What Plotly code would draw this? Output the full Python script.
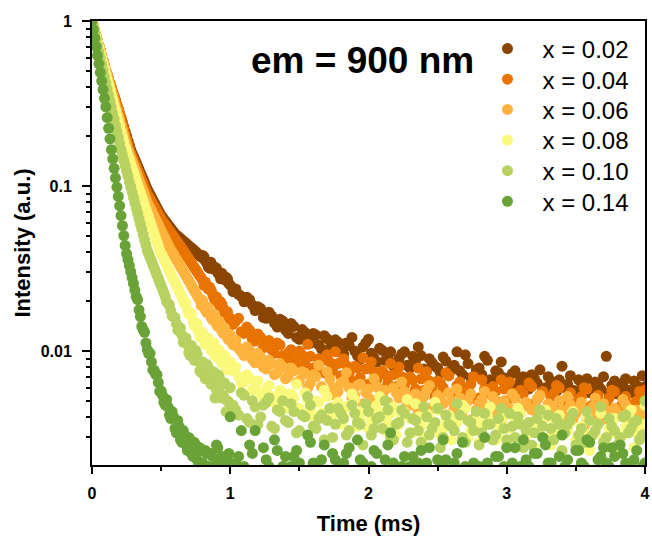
import plotly.graph_objects as go


# time base of the decay traces (ms): dense at the start, sparser in the tail
t_ms = [
    0.00, 0.01, 0.02, 0.03, 0.04, 0.05, 0.06, 0.07, 0.08, 0.09,
    0.10, 0.11, 0.12, 0.13, 0.14, 0.15, 0.16, 0.17, 0.18, 0.19,
    0.20, 0.21, 0.22, 0.23, 0.24, 0.25, 0.26, 0.27, 0.28, 0.29,
    0.30, 0.31, 0.32, 0.33, 0.34, 0.35, 0.36, 0.37, 0.38, 0.39,
    0.40, 0.41, 0.42, 0.43, 0.44, 0.45, 0.46, 0.47, 0.48, 0.49, 0.50,
    0.52, 0.54, 0.56, 0.58, 0.60, 0.62, 0.64, 0.66, 0.68, 0.70,
    0.72, 0.74, 0.76, 0.78, 0.80, 0.82, 0.84, 0.86, 0.88, 0.90,
    0.92, 0.94, 0.96, 0.98, 1.00,
    1.04, 1.08, 1.12, 1.16, 1.20, 1.24, 1.28, 1.32, 1.36, 1.40,
    1.44, 1.48, 1.52, 1.56, 1.60, 1.64, 1.68, 1.72, 1.76, 1.80,
    1.84, 1.88, 1.92, 1.96, 2.00, 2.04, 2.08, 2.12, 2.16, 2.20,
    2.24, 2.28, 2.32, 2.36, 2.40, 2.44, 2.48, 2.52, 2.56, 2.60,
    2.64, 2.68, 2.72, 2.76, 2.80, 2.84, 2.88, 2.92, 2.96, 3.00,
    3.04, 3.08, 3.12, 3.16, 3.20, 3.24, 3.28, 3.32, 3.36, 3.40,
    3.44, 3.48, 3.52, 3.56, 3.60, 3.64, 3.68, 3.72, 3.76, 3.80,
    3.84, 3.88, 3.92, 3.96, 4.00,
]

# in-between samples of the same traces (ms)
t_ms_b = [
    0.51, 0.53, 0.55, 0.57, 0.59, 0.61, 0.63, 0.65, 0.67, 0.69,
    0.71, 0.73, 0.75, 0.77, 0.79, 0.81, 0.83, 0.85, 0.87, 0.89,
    0.91, 0.93, 0.95, 0.97, 0.99,
    1.02, 1.06, 1.10, 1.14, 1.18, 1.22, 1.26, 1.30, 1.34, 1.38,
    1.42, 1.46, 1.50, 1.54, 1.58, 1.62, 1.66, 1.70, 1.74, 1.78,
    1.82, 1.86, 1.90, 1.94, 1.98, 2.02, 2.06, 2.10, 2.14, 2.18,
    2.22, 2.26, 2.30, 2.34, 2.38, 2.42, 2.46, 2.50, 2.54, 2.58,
    2.62, 2.66, 2.70, 2.74, 2.78, 2.82, 2.86, 2.90, 2.94, 2.98,
    3.02, 3.06, 3.10, 3.14, 3.18, 3.22, 3.26, 3.30, 3.34, 3.38,
    3.42, 3.46, 3.50, 3.54, 3.58, 3.62, 3.66, 3.70, 3.74, 3.78,
    3.82, 3.86, 3.90, 3.94, 3.98,
]

# normalised intensity (a.u.) for each composition
int_x002 = [
    1.0, 0.933, 0.871, 0.813, 0.759, 0.708, 0.661, 0.617, 0.575, 0.537,
    0.501, 0.472, 0.445, 0.419, 0.394, 0.372, 0.350, 0.330, 0.310, 0.292,
    0.275, 0.259, 0.243, 0.228, 0.214, 0.201, 0.188, 0.177, 0.166, 0.158,
    0.151, 0.145, 0.138, 0.132, 0.126, 0.120, 0.115, 0.110, 0.105, 0.100,
    0.0955, 0.0920, 0.0887, 0.0855, 0.0824, 0.0794, 0.0766, 0.0738, 0.0711, 0.0685, 0.0661,
    0.0628, 0.0597, 0.0568, 0.0540, 0.0513, 0.0497, 0.0480, 0.0465, 0.0450, 0.0435,
    0.0421, 0.0407, 0.0393, 0.0378, 0.0380, 0.0351, 0.0325, 0.0345, 0.0314, 0.0318,
    0.0292, 0.0296, 0.0270, 0.0274, 0.0251,
    0.0238, 0.0215, 0.0212, 0.0190, 0.0186, 0.0160, 0.0172, 0.0148, 0.0156, 0.0134,
    0.0147, 0.0121, 0.0135, 0.0116, 0.0128, 0.0109, 0.0124, 0.0104, 0.0117, 0.0099,
    0.0112, 0.0121, 0.0094, 0.0106, 0.0118, 0.0091, 0.0104, 0.0088, 0.0099, 0.0085,
    0.0096, 0.0082, 0.0093, 0.0106, 0.0078, 0.0090, 0.0081, 0.0074, 0.0087, 0.0077,
    0.0099, 0.0072, 0.0084, 0.0070, 0.0079, 0.0093, 0.0067, 0.0076, 0.0086, 0.0064,
    0.0073, 0.0062, 0.0070, 0.0059, 0.0068, 0.0077, 0.0060, 0.0066, 0.0057, 0.0081,
    0.0063, 0.0058, 0.0067, 0.0061, 0.0056, 0.0065, 0.0059, 0.0093, 0.0062, 0.0055,
    0.0064, 0.0058, 0.0066, 0.0054, 0.0061,
]
int_x002_b = [
    0.0645, 0.0612, 0.0582, 0.0554, 0.0526, 0.0505, 0.0488, 0.0472, 0.0457, 0.0442,
    0.0428, 0.0414, 0.0400, 0.0385, 0.0371, 0.0372, 0.0345, 0.0318, 0.0320, 0.0322,
    0.0297, 0.0274, 0.0276, 0.0280, 0.0256,
    0.0229, 0.0221, 0.0199, 0.0205, 0.0176, 0.0181, 0.0158, 0.0163, 0.0140, 0.0152,
    0.0128, 0.0141, 0.0118, 0.0130, 0.0112, 0.0125, 0.0103, 0.0119, 0.0101, 0.0113,
    0.0096, 0.0108, 0.0100, 0.0089, 0.0112, 0.0097, 0.0086, 0.0101, 0.0092, 0.0081,
    0.0090, 0.0099, 0.0079, 0.0087, 0.0094, 0.0076, 0.0085, 0.0079, 0.0092, 0.0071,
    0.0082, 0.0076, 0.0095, 0.0069, 0.0077, 0.0072, 0.0088, 0.0066, 0.0074, 0.0069,
    0.0063, 0.0076, 0.0067, 0.0061, 0.0072, 0.0064, 0.0058, 0.0070, 0.0063, 0.0067,
    0.0060, 0.0071, 0.0057, 0.0064, 0.0068, 0.0058, 0.0063, 0.0070, 0.0056, 0.0066,
    0.0059, 0.0068, 0.0056, 0.0062, 0.0071,
]

int_x004 = [
    1.0, 0.933, 0.871, 0.813, 0.759, 0.708, 0.661, 0.617, 0.575, 0.537,
    0.501, 0.472, 0.445, 0.419, 0.394, 0.372, 0.350, 0.330, 0.310, 0.292,
    0.275, 0.256, 0.238, 0.222, 0.206, 0.192, 0.178, 0.166, 0.158, 0.151,
    0.144, 0.137, 0.131, 0.124, 0.119, 0.113, 0.108, 0.103, 0.0980, 0.0935,
    0.0891, 0.0861, 0.0832, 0.0804, 0.0776, 0.0750, 0.0724, 0.0700, 0.0676, 0.0653, 0.0631,
    0.0597, 0.0565, 0.0536, 0.0507, 0.0480, 0.0454, 0.0431, 0.0407, 0.0384, 0.0362,
    0.0341, 0.0321, 0.0303, 0.0286, 0.0269, 0.0262, 0.0238, 0.0236, 0.0212, 0.0213,
    0.0190, 0.0192, 0.0171, 0.0173, 0.0155,
    0.0152, 0.0131, 0.0140, 0.0118, 0.0127, 0.0105, 0.0116, 0.0097, 0.0109, 0.0090,
    0.0102, 0.0083, 0.0095, 0.0110, 0.0079, 0.0090, 0.0074, 0.0086, 0.0099, 0.0071,
    0.0082, 0.0066, 0.0079, 0.0091, 0.0063, 0.0075, 0.0059, 0.0072, 0.0084, 0.0061,
    0.0070, 0.0055, 0.0067, 0.0079, 0.0058, 0.0066, 0.0052, 0.0064, 0.0074, 0.0055,
    0.0062, 0.0049, 0.0060, 0.0070, 0.0052, 0.0059, 0.0046, 0.0057, 0.0067, 0.0050,
    0.0056, 0.0044, 0.0055, 0.0064, 0.0048, 0.0054, 0.0043, 0.0053, 0.0062, 0.0047,
    0.0052, 0.0042, 0.0051, 0.0060, 0.0046, 0.0050, 0.0041, 0.0049, 0.0058, 0.0044,
    0.0049, 0.0040, 0.0048, 0.0057, 0.0058,
]
int_x004_b = [
    0.0614, 0.0581, 0.0550, 0.0521, 0.0493, 0.0467, 0.0442, 0.0419, 0.0395, 0.0373,
    0.0351, 0.0331, 0.0312, 0.0294, 0.0277, 0.0250, 0.0248, 0.0245, 0.0224, 0.0203,
    0.0201, 0.0199, 0.0181, 0.0164, 0.0162,
    0.0145, 0.0158, 0.0128, 0.0134, 0.0115, 0.0121, 0.0109, 0.0102, 0.0112, 0.0094,
    0.0098, 0.0089, 0.0100, 0.0084, 0.0093, 0.0080, 0.0087, 0.0095, 0.0076, 0.0084,
    0.0090, 0.0073, 0.0081, 0.0069, 0.0078, 0.0086, 0.0067, 0.0076, 0.0064, 0.0072,
    0.0080, 0.0062, 0.0070, 0.0059, 0.0068, 0.0075, 0.0058, 0.0066, 0.0060, 0.0071,
    0.0054, 0.0065, 0.0058, 0.0063, 0.0051, 0.0067, 0.0056, 0.0061, 0.0049, 0.0059,
    0.0065, 0.0052, 0.0058, 0.0047, 0.0061, 0.0051, 0.0057, 0.0046, 0.0055, 0.0060,
    0.0049, 0.0056, 0.0045, 0.0053, 0.0059, 0.0047, 0.0054, 0.0044, 0.0052, 0.0057,
    0.0046, 0.0053, 0.0043, 0.0050, 0.0055,
]

int_x006 = [
    1.0, 0.933, 0.871, 0.813, 0.759, 0.708, 0.661, 0.617, 0.575, 0.537,
    0.501, 0.468, 0.437, 0.407, 0.380, 0.355, 0.331, 0.309, 0.288, 0.269,
    0.251, 0.234, 0.219, 0.204, 0.191, 0.178, 0.166, 0.157, 0.149, 0.142,
    0.134, 0.128, 0.121, 0.115, 0.109, 0.103, 0.0980, 0.0931, 0.0883, 0.0838,
    0.0794, 0.0764, 0.0735, 0.0706, 0.0679, 0.0653, 0.0628, 0.0604, 0.0581, 0.0558, 0.0537,
    0.0497, 0.0458, 0.0424, 0.0398, 0.0372, 0.0348, 0.0326, 0.0305, 0.0285, 0.0267,
    0.0249, 0.0233, 0.0218, 0.0204, 0.0203, 0.0178, 0.0184, 0.0161, 0.0167, 0.0146,
    0.0152, 0.0132, 0.0138, 0.0120, 0.0125,
    0.0116, 0.0099, 0.0106, 0.0089, 0.0097, 0.0080, 0.0088, 0.0072, 0.0084, 0.0068,
    0.0079, 0.0064, 0.0075, 0.0060, 0.0072, 0.0082, 0.0058, 0.0068, 0.0054, 0.0064,
    0.0074, 0.0052, 0.0062, 0.0048, 0.0059, 0.0068, 0.0050, 0.0058, 0.0045, 0.0056,
    0.0065, 0.0047, 0.0054, 0.0043, 0.0053, 0.0062, 0.0045, 0.0052, 0.0041, 0.0050,
    0.0059, 0.0043, 0.0050, 0.0039, 0.0048, 0.0057, 0.0042, 0.0049, 0.0038, 0.0046,
    0.0055, 0.0041, 0.0047, 0.0037, 0.0045, 0.0054, 0.0040, 0.0046, 0.0036, 0.0044,
    0.0053, 0.0039, 0.0045, 0.0035, 0.0043, 0.0052, 0.0038, 0.0044, 0.0034, 0.0042,
    0.0051, 0.0037, 0.0043, 0.0033, 0.0041,
]
int_x006_b = [
    0.0517, 0.0477, 0.0441, 0.0411, 0.0385, 0.0360, 0.0337, 0.0315, 0.0295, 0.0276,
    0.0258, 0.0241, 0.0225, 0.0211, 0.0189, 0.0190, 0.0172, 0.0172, 0.0155, 0.0156,
    0.0141, 0.0142, 0.0128, 0.0129, 0.0117,
    0.0109, 0.0104, 0.0094, 0.0101, 0.0085, 0.0092, 0.0078, 0.0084, 0.0074, 0.0080,
    0.0071, 0.0076, 0.0066, 0.0073, 0.0064, 0.0070, 0.0061, 0.0075, 0.0060, 0.0057,
    0.0066, 0.0060, 0.0054, 0.0063, 0.0056, 0.0051, 0.0061, 0.0054, 0.0049, 0.0060,
    0.0052, 0.0057, 0.0047, 0.0055, 0.0050, 0.0058, 0.0046, 0.0054, 0.0048, 0.0056,
    0.0045, 0.0052, 0.0047, 0.0055, 0.0044, 0.0051, 0.0046, 0.0053, 0.0043, 0.0050,
    0.0045, 0.0052, 0.0042, 0.0049, 0.0044, 0.0051, 0.0041, 0.0048, 0.0043, 0.0050,
    0.0040, 0.0047, 0.0042, 0.0049, 0.0039, 0.0046, 0.0041, 0.0048, 0.0038, 0.0045,
    0.0041, 0.0047, 0.0037, 0.0044, 0.0040,
]

int_x008 = [
    1.0, 0.929, 0.863, 0.802, 0.745, 0.692, 0.643, 0.597, 0.555, 0.515,
    0.479, 0.445, 0.414, 0.385, 0.357, 0.332, 0.309, 0.287, 0.267, 0.248,
    0.231, 0.214, 0.199, 0.185, 0.172, 0.162, 0.153, 0.145, 0.136, 0.129,
    0.122, 0.115, 0.108, 0.102, 0.0966, 0.0912, 0.0861, 0.0813, 0.0767, 0.0724,
    0.0684, 0.0646, 0.0610, 0.0575, 0.0543, 0.0513, 0.0484, 0.0457, 0.0432, 0.0407, 0.0391,
    0.0361, 0.0333, 0.0306, 0.0282, 0.0261, 0.0240, 0.0221, 0.0204, 0.0195, 0.0168,
    0.0168, 0.0142, 0.0146, 0.0122, 0.0130, 0.0110, 0.0120, 0.0101, 0.0112, 0.0092,
    0.0102, 0.0085, 0.0094, 0.0077, 0.0086,
    0.0080, 0.0064, 0.0072, 0.0058, 0.0066, 0.0052, 0.0062, 0.0049, 0.0058, 0.0045,
    0.0055, 0.0063, 0.0042, 0.0051, 0.0040, 0.0049, 0.0058, 0.0038, 0.0047, 0.0036,
    0.0046, 0.0055, 0.0035, 0.0044, 0.0034, 0.0043, 0.0053, 0.0033, 0.0042, 0.0031,
    0.0041, 0.0051, 0.0032, 0.0040, 0.0030, 0.0039, 0.0049, 0.0031, 0.0038, 0.0029,
    0.0037, 0.0047, 0.0030, 0.0036, 0.0028, 0.0036, 0.0046, 0.0029, 0.0035, 0.0027,
    0.0035, 0.0045, 0.0028, 0.0034, 0.0026, 0.0034, 0.0044, 0.0027, 0.0033, 0.0025,
    0.0033, 0.0043, 0.0027, 0.0032, 0.0025, 0.0032, 0.0042, 0.0026, 0.0032, 0.0024,
    0.0031, 0.0041, 0.0026, 0.0031, 0.0047,
]
int_x008_b = [
    0.0376, 0.0347, 0.0319, 0.0294, 0.0271, 0.0250, 0.0230, 0.0212, 0.0193, 0.0178,
    0.0170, 0.0152, 0.0148, 0.0131, 0.0128, 0.0117, 0.0113, 0.0114, 0.0104, 0.0094,
    0.0096, 0.0096, 0.0087, 0.0079, 0.0080,
    0.0076, 0.0070, 0.0065, 0.0068, 0.0060, 0.0055, 0.0059, 0.0053, 0.0050, 0.0056,
    0.0047, 0.0052, 0.0045, 0.0056, 0.0044, 0.0050, 0.0042, 0.0053, 0.0041, 0.0049,
    0.0040, 0.0047, 0.0051, 0.0039, 0.0045, 0.0038, 0.0047, 0.0042, 0.0037, 0.0046,
    0.0036, 0.0043, 0.0039, 0.0048, 0.0035, 0.0042, 0.0037, 0.0044, 0.0034, 0.0041,
    0.0036, 0.0040, 0.0045, 0.0033, 0.0039, 0.0034, 0.0041, 0.0037, 0.0032, 0.0040,
    0.0034, 0.0038, 0.0042, 0.0031, 0.0037, 0.0033, 0.0039, 0.0030, 0.0036, 0.0041,
    0.0032, 0.0037, 0.0029, 0.0035, 0.0040, 0.0031, 0.0036, 0.0029, 0.0034, 0.0039,
    0.0030, 0.0035, 0.0044, 0.0032, 0.0036,
]

int_x010 = [
    1.0, 0.917, 0.841, 0.772, 0.708, 0.649, 0.596, 0.546, 0.501, 0.460,
    0.422, 0.388, 0.356, 0.327, 0.301, 0.276, 0.254, 0.233, 0.214, 0.197,
    0.181, 0.166, 0.154, 0.143, 0.133, 0.123, 0.115, 0.106, 0.0987, 0.0917,
    0.0851, 0.0791, 0.0735, 0.0682, 0.0634, 0.0589, 0.0547, 0.0508, 0.0472, 0.0439,
    0.0407, 0.0388, 0.0369, 0.0352, 0.0334, 0.0318, 0.0303, 0.0288, 0.0275, 0.0261, 0.0249,
    0.0225, 0.0199, 0.0190, 0.0163, 0.0160, 0.0134, 0.0138, 0.0113, 0.0120, 0.0098,
    0.0108, 0.0088, 0.0096, 0.0076, 0.0086, 0.0068, 0.0080, 0.0063, 0.0075, 0.0058,
    0.0070, 0.0052, 0.0064, 0.0050, 0.0060,
    0.0044, 0.0056, 0.0039, 0.0050, 0.0036, 0.0047, 0.0052, 0.0034, 0.0043, 0.0038,
    0.0048, 0.0032, 0.0041, 0.0053, 0.0035, 0.0039, 0.0029, 0.0045, 0.0036, 0.0042,
    0.0031, 0.0047, 0.0037, 0.0027, 0.0043, 0.0034, 0.0040, 0.0050, 0.0030, 0.0036,
    0.0044, 0.0028, 0.0039, 0.0033, 0.0046, 0.0031, 0.0037, 0.0026, 0.0041, 0.0035,
    0.0048, 0.0030, 0.0038, 0.0033, 0.0027, 0.0042, 0.0036, 0.0031, 0.0045, 0.0029,
    0.0035, 0.0040, 0.0026, 0.0037, 0.0032, 0.0044, 0.0029, 0.0034, 0.0039, 0.0025,
    0.0036, 0.0042, 0.0031, 0.0028, 0.0038, 0.0033, 0.0046, 0.0030, 0.0035, 0.0027,
    0.0040, 0.0032, 0.0037, 0.0029, 0.0050,
]
int_x010_b = [
    0.0237, 0.0214, 0.0195, 0.0176, 0.0161, 0.0147, 0.0135, 0.0125, 0.0117, 0.0110,
    0.0094, 0.0098, 0.0101, 0.0086, 0.0074, 0.0078, 0.0083, 0.0072, 0.0064, 0.0052,
    0.0072, 0.0062, 0.0054, 0.0043, 0.0049,
    0.0047, 0.0041, 0.0054, 0.0037, 0.0046, 0.0040, 0.0049, 0.0035, 0.0044, 0.0050,
    0.0037, 0.0043, 0.0033, 0.0040, 0.0047, 0.0034, 0.0041, 0.0038, 0.0030, 0.0045,
    0.0039, 0.0033, 0.0042, 0.0036, 0.0048, 0.0031, 0.0039, 0.0034, 0.0044, 0.0029,
    0.0037, 0.0042, 0.0032, 0.0038, 0.0028, 0.0040, 0.0034, 0.0045, 0.0030, 0.0036,
    0.0033, 0.0041, 0.0028, 0.0037, 0.0043, 0.0032, 0.0036, 0.0029, 0.0039, 0.0034,
    0.0042, 0.0030, 0.0036, 0.0033, 0.0027, 0.0039, 0.0035, 0.0041, 0.0029, 0.0036,
    0.0032, 0.0038, 0.0027, 0.0034, 0.0043, 0.0031, 0.0036, 0.0028, 0.0039, 0.0033,
    0.0030, 0.0041, 0.0034, 0.0038, 0.0031,
]

int_x014 = [
    1.0, 0.887, 0.787, 0.698, 0.619, 0.550, 0.488, 0.433, 0.384, 0.340,
    0.302, 0.260, 0.224, 0.193, 0.166, 0.146, 0.128, 0.112, 0.0984, 0.0865,
    0.0759, 0.0661, 0.0575, 0.0501, 0.0437, 0.0389, 0.0358, 0.0330, 0.0303, 0.0279,
    0.0257, 0.0234, 0.0214, 0.0205, 0.0178, 0.0162, 0.0141, 0.0135, 0.0130, 0.0112,
    0.0102, 0.00966, 0.0097, 0.00861, 0.0077, 0.00767, 0.00724, 0.0072, 0.00646, 0.0057, 0.00575,
    0.0049, 0.0051, 0.0041, 0.0043, 0.0034, 0.0038, 0.0029, 0.0033, 0.0027, 0.0030,
    0.0024, 0.0028, 0.0022, 0.0026, 0.0021, 0.0025, 0.0020, 0.0024, 0.0019, 0.0027,
    0.0021, 0.0023, 0.0018, 0.0022, 0.0040,
    0.0021, 0.0033, 0.0019, 0.0024, 0.0018, 0.0026, 0.0020, 0.0029, 0.0017, 0.0023,
    0.0020, 0.0025, 0.0018, 0.0031, 0.0021, 0.0019, 0.0027, 0.0018, 0.0022, 0.0020,
    0.0024, 0.0017, 0.0029, 0.0021, 0.0019, 0.0025, 0.0018, 0.0022, 0.0032, 0.0019,
    0.0020, 0.0018, 0.0023, 0.0021, 0.0019, 0.0026, 0.0018, 0.0020, 0.0022, 0.0019,
    0.0024, 0.0028, 0.0018, 0.0021, 0.0020, 0.0030, 0.0019, 0.0023, 0.0018, 0.0026,
    0.0021, 0.0019, 0.0029, 0.0020, 0.0024, 0.0018, 0.0027, 0.0021, 0.0019, 0.0031,
    0.0022, 0.0018, 0.0025, 0.0020, 0.0028, 0.0019, 0.0023, 0.0021, 0.0026, 0.0018,
    0.0024, 0.0020, 0.0022, 0.0019, 0.0021,
]
int_x014_b = [
    0.0054, 0.0047, 0.0046, 0.0039, 0.0040, 0.0032, 0.0035, 0.0028, 0.0031, 0.0025,
    0.0029, 0.0023, 0.0027, 0.0021, 0.0025, 0.0020, 0.0024, 0.0019, 0.0023, 0.0020,
    0.0026, 0.0019, 0.0022, 0.0020, 0.0024,
    0.0019, 0.0023, 0.0020, 0.0027, 0.0033, 0.0019, 0.0022, 0.0018, 0.0025, 0.0020,
    0.0019, 0.0023, 0.0021, 0.0018, 0.0028, 0.0020, 0.0022, 0.0019, 0.0024, 0.0018,
    0.0021, 0.0026, 0.0019, 0.0022, 0.0018, 0.0020, 0.0024, 0.0019, 0.0027, 0.0021,
    0.0018, 0.0023, 0.0020, 0.0019, 0.0025, 0.0021, 0.0018, 0.0022, 0.0029, 0.0019,
    0.0021, 0.0018, 0.0020, 0.0019, 0.0020, 0.0018, 0.0021, 0.0019, 0.0023, 0.0020,
    0.0018, 0.0026, 0.0020, 0.0022, 0.0019, 0.0024, 0.0030, 0.0021, 0.0019, 0.0023,
    0.0020, 0.0018, 0.0025, 0.0021, 0.0029, 0.0019, 0.0022, 0.0026, 0.0020, 0.0023,
    0.0027, 0.0021, 0.0019, 0.0025, 0.0020,
]

series_names = ['x = 0.02', 'x = 0.04', 'x = 0.06', 'x = 0.08', 'x = 0.10', 'x = 0.14']
series_values = [int_x002, int_x004, int_x006, int_x008, int_x010, int_x014]
series_values_b = [int_x002_b, int_x004_b, int_x006_b, int_x008_b, int_x010_b, int_x014_b]
series_colors = ['#8a4600', '#e97300', '#fdb33e', '#fbf97c', '#b7d261', '#69a337']

# axis ticks
x_ticks = [0, 1, 2, 3, 4]
x_minor = [0.5, 1.5, 2.5, 3.5]
y_ticks = [0.01, 0.1, 1]
y_ticktext = ['0.01', '0.1', '1']
y_minor = [0.003, 0.004, 0.005, 0.006, 0.007, 0.008, 0.009,
           0.02, 0.03, 0.04, 0.05, 0.06, 0.07, 0.08, 0.09,
           0.2, 0.3, 0.4, 0.5, 0.6, 0.7, 0.8, 0.9]

font_family = 'Liberation Sans, Arial, sans-serif'

# one small legend per composition so the rows can be spaced like the original
legend_ids = ['legend', 'legend2', 'legend3', 'legend4', 'legend5', 'legend6']
legend_y = [0.937, 0.868, 0.800, 0.731, 0.662, 0.593]


fig = go.Figure()

# first composition drawn first, so later ones sit on top
for i in range(len(series_names)):
    fig.add_trace(go.Scatter(
        x=t_ms + t_ms_b, y=series_values[i] + series_values_b[i],
        mode='markers',
        name=series_names[i],
        legend=legend_ids[i],
        marker=dict(color=series_colors[i], size=11, line=dict(width=0)),
    ))

fig.add_annotation(
    x=0.489, y=0.912, xref='paper', yref='paper',
    text='em = 900 nm', showarrow=False,
    xanchor='center', yanchor='middle',
    font=dict(family=font_family, size=37, color='black', weight='bold'),
)

fig.update_xaxes(
    range=[0, 4],
    tickvals=x_ticks,
    ticks='outside', ticklen=7, tickwidth=1.5, tickcolor='black',
    minor=dict(tickvals=x_minor, ticks='outside', ticklen=4, tickwidth=1.5, tickcolor='black'),
    showline=True, linewidth=2, linecolor='black', mirror=True,
    showgrid=False, zeroline=False, automargin=False,
    ticklabelstandoff=6,
    tickfont=dict(family=font_family, size=16, color='black', weight='bold'),
    title=dict(text='Time (ms)', standoff=14,
               font=dict(family=font_family, size=22, color='black', weight='bold')),
)

fig.update_yaxes(
    type='log',
    range=[-2.69, 0],
    tickvals=y_ticks, ticktext=y_ticktext,
    ticks='outside', ticklen=8, tickwidth=1.5, tickcolor='black',
    minor=dict(tickvals=y_minor, ticks='outside', ticklen=4, tickwidth=1.5, tickcolor='black'),
    showline=True, linewidth=2, linecolor='black', mirror=True,
    showgrid=False, zeroline=False, automargin=False,
    ticklabelstandoff=7,
    tickfont=dict(family=font_family, size=16, color='black', weight='bold'),
    title=dict(text='Intensity (a.u.)', standoff=4,
               font=dict(family=font_family, size=22, color='black', weight='bold')),
)

legend_style = dict(
    x=0.688, xanchor='left', yanchor='middle',
    bgcolor='rgba(0,0,0,0)', borderwidth=0, itemwidth=60,
    font=dict(family=font_family, size=24, color='black'),
)
legend_layout = {}
for i in range(len(legend_ids)):
    legend_layout[legend_ids[i]] = dict(legend_style, y=legend_y[i])

fig.update_layout(
    width=652, height=539,
    margin=dict(l=92, r=7, t=21, b=74),
    paper_bgcolor='white', plot_bgcolor='white',
    showlegend=True,
    **legend_layout,
)

# the page's default body margin would shift the figure by 8 px
fig.write_html("out.html", config={'displayModeBar': False},
               post_script="document.body.style.margin = '0';")
